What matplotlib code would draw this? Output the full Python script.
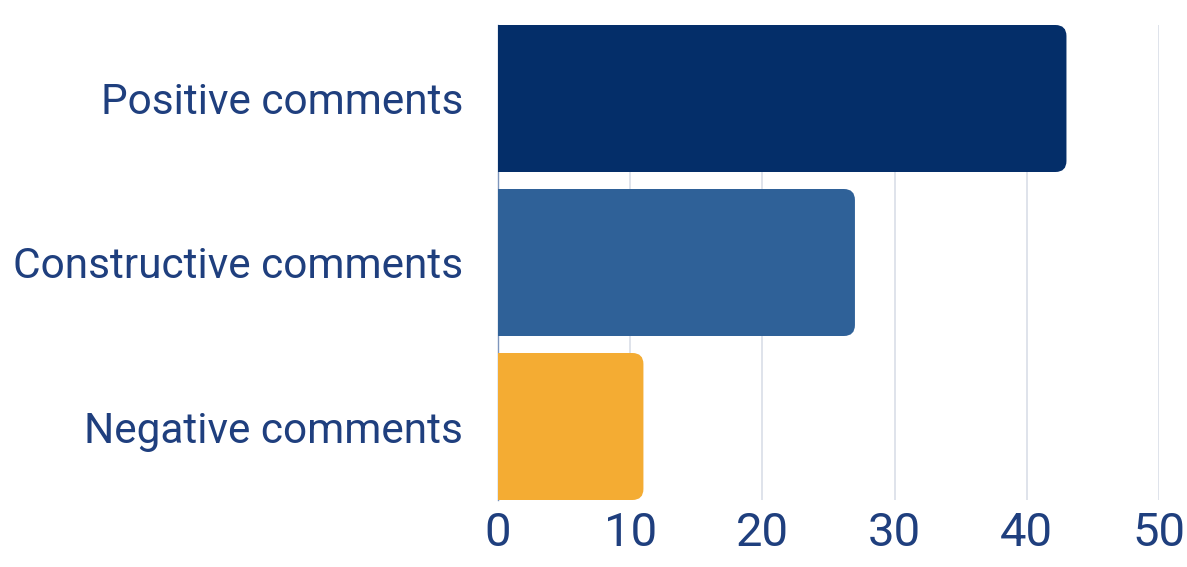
import matplotlib
matplotlib.use("Agg")
import matplotlib.pyplot as plt
from matplotlib.path import Path
from matplotlib.patches import PathPatch
from matplotlib.transforms import IdentityTransform

categories = ["Positive comments", "Constructive comments", "Negative comments"]
values = [43, 27, 11]
colors = ["#042E69", "#2F6198", "#F4AC33"]
xticks = [0, 10, 20, 30, 40, 50]

text_color = "#1F3F7E"
plt.rcParams['font.family'] = ['Roboto', 'DejaVu Sans']

W, H = 1187, 567
fig = plt.figure(figsize=(W / 100, H / 100), dpi=100)
ax = fig.add_axes([498 / W, 1 - 500 / H, (1159 - 498) / W, (500 - 25) / H])

bar_h = 147 / 164
ypos = list(range(len(categories)))
bars = ax.barh(ypos, values, height=bar_h, color=colors)
ax.set_xlim(0, 50)
ax.set_ylim(len(categories) - 1 + bar_h / 2, -bar_h / 2)
ax.set_xticks(xticks)
ax.set_xticklabels([str(t) for t in xticks])
ax.set_yticks(ypos)
ax.set_yticklabels(categories)
ax.tick_params(axis='x', length=0, pad=8, labelsize=34, labelcolor=text_color)
ax.tick_params(axis='y', length=0, pad=25, labelsize=30.5, labelcolor=text_color)
for lbl in ax.get_yticklabels():
    lbl.set_y(lbl.get_position()[1])
for s in ["top", "right", "bottom"]:
    ax.spines[s].set_visible(False)
ax.spines["left"].set_color("#7E95BC")
ax.spines["left"].set_linewidth(1.0)
ax.grid(axis='x', color="#D9DEE8", linewidth=1.2)
ax.set_axisbelow(True)

# Replace bars with right-rounded versions in display coordinates
fig.canvas.draw()
r = 11
for b in bars:
    x0, y0 = b.get_x(), b.get_y()
    x1, y1 = x0 + b.get_width(), y0 + b.get_height()
    (px0, py0) = ax.transData.transform((x0, y0))
    (px1, py1) = ax.transData.transform((x1, y1))
    top, bot = max(py0, py1), min(py0, py1)
    verts = [(px0, bot), (px1 - r, bot), (px1, bot), (px1, bot + r),
             (px1, top - r), (px1, top), (px1 - r, top), (px0, top), (px0, bot)]
    codes = [Path.MOVETO, Path.LINETO, Path.CURVE3, Path.CURVE3,
             Path.LINETO, Path.CURVE3, Path.CURVE3, Path.LINETO, Path.CLOSEPOLY]
    patch = PathPatch(Path(verts, codes), facecolor=b.get_facecolor(),
                      edgecolor='none', transform=IdentityTransform(), zorder=3)
    fig.add_artist(patch)
    b.set_visible(False)

fig.savefig("out.png", dpi=100)
